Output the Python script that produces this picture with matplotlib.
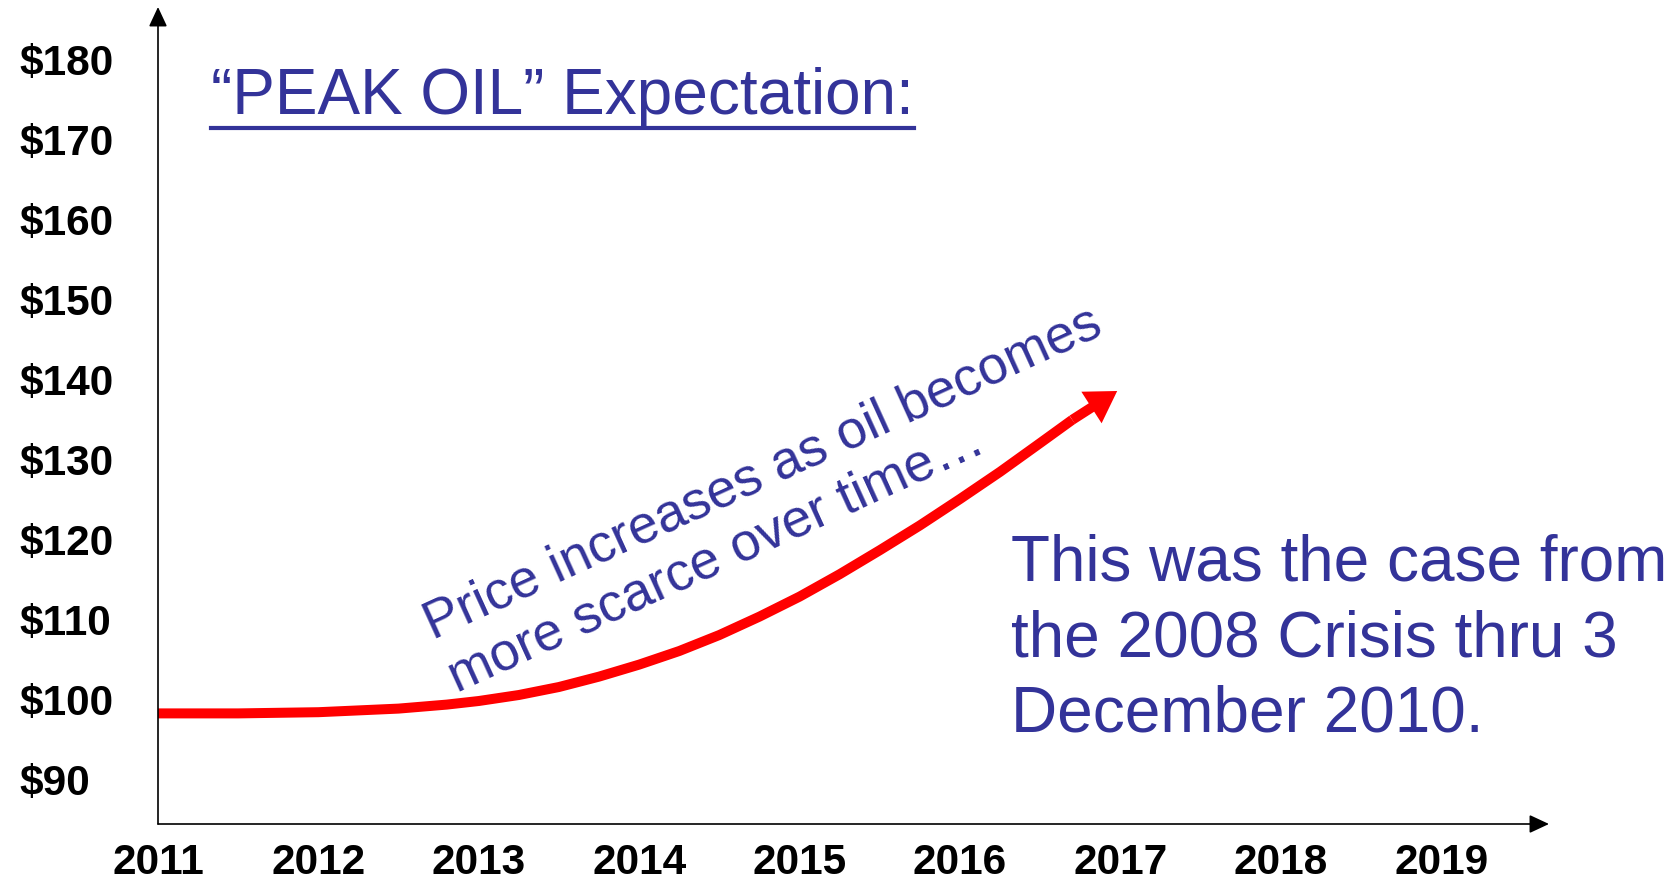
import matplotlib
matplotlib.use("Agg")
import matplotlib.pyplot as plt
from matplotlib.lines import Line2D

plt.rcParams["font.family"] = ["Liberation Sans", "DejaVu Sans"]

# data (last point = arrow tip)
years = [2011.0, 2011.5, 2012.0, 2012.5, 2012.8, 2013.0, 2013.25, 2013.5,
         2013.75, 2014.0, 2014.25, 2014.5, 2014.75, 2015.0, 2015.25, 2015.5,
         2015.75, 2016.0, 2016.25, 2016.5, 2016.70, 2016.98]
price = [98.2, 98.2, 98.35, 98.8, 99.3, 99.75, 100.5, 101.5,
         102.8, 104.3, 106.0, 108.0, 110.3, 112.8, 115.6, 118.6,
         121.7, 125.0, 128.4, 132.0, 134.9, 138.5]

x_ticks = [2011, 2012, 2013, 2014, 2015, 2016, 2017, 2018, 2019]
y_ticks = [90, 100, 110, 120, 130, 140, 150, 160, 170, 180]
y_labels = ["$" + str(v) for v in y_ticks]

title = "\u201cPEAK OIL\u201d Expectation:"
curve_note = "Price increases as oil becomes\nmore scarce over time\u2026"
side_note = "This was the case from\nthe 2008 Crisis thru 3\nDecember 2010."

blue = "#333399"
W, H = 1677, 879

fig = plt.figure(figsize=(W / 100, H / 100), dpi=100)
ax = fig.add_axes([158 / W, 54 / H, 1391 / W, 817 / H])
ax.set_xlim(2011, 2019.672)
ax.set_ylim(84.375, 186.5)

for s in ax.spines.values():
    s.set_visible(False)

ax.set_xticks(x_ticks)
ax.set_xticklabels([str(y) for y in x_ticks])
ax.set_yticks(y_ticks)
ax.set_yticklabels(y_labels)
ax.tick_params(length=0, labelsize=30.5)
ax.tick_params(axis="y", pad=100)
ax.tick_params(axis="x", pad=13)
for lab in ax.get_xticklabels():
    lab.set_fontweight("bold")
for lab in ax.get_yticklabels():
    lab.set_fontweight("bold")
    lab.set_horizontalalignment("left")

# axis arrows
axis_arrow = dict(arrowstyle="-|>,head_length=0.6,head_width=0.28",
                  mutation_scale=20, color="black", lw=1.2,
                  shrinkA=0, shrinkB=0)
ax.annotate("", xy=(1, 0), xytext=(0, 0), xycoords="axes fraction",
            arrowprops=axis_arrow, annotation_clip=False)
ax.annotate("", xy=(0, 1), xytext=(0, 0), xycoords="axes fraction",
            arrowprops=axis_arrow, annotation_clip=False)

# red curve + arrow head
ax.plot(years[:-1], price[:-1], color="red", lw=7.2, solid_capstyle="butt",
        solid_joinstyle="round", clip_on=False)
ax.annotate("", xy=(years[-1], price[-1]), xytext=(years[-2], price[-2]),
            arrowprops=dict(arrowstyle="simple,head_length=1.1,head_width=1.35,tail_width=0.36",
                            mutation_scale=20, color="red", lw=0,
                            shrinkA=0, shrinkB=0))

# texts (multi-line texts are anchored on the baseline of their last line)
t = ax.text(2011.33, 173.25, title, fontsize=46, color=blue,
            ha="left", va="baseline")
ax.text(2012.845, 101.875, curve_note, fontsize=38.5, color=blue, rotation=24.5,
        rotation_mode="anchor", ha="left", va="baseline", linespacing=1.2)
ax.text(2016.32, 96.06, side_note, fontsize=46, color=blue,
        ha="left", va="baseline", linespacing=1.33)

# underline under the title
fig.canvas.draw()
bb = t.get_window_extent()
uy = bb.y0 - 2
fig.add_artist(Line2D([bb.x0 / W, bb.x1 / W], [uy / H, uy / H],
                      color=blue, lw=3, transform=fig.transFigure))

fig.savefig("out.png", dpi=100)
